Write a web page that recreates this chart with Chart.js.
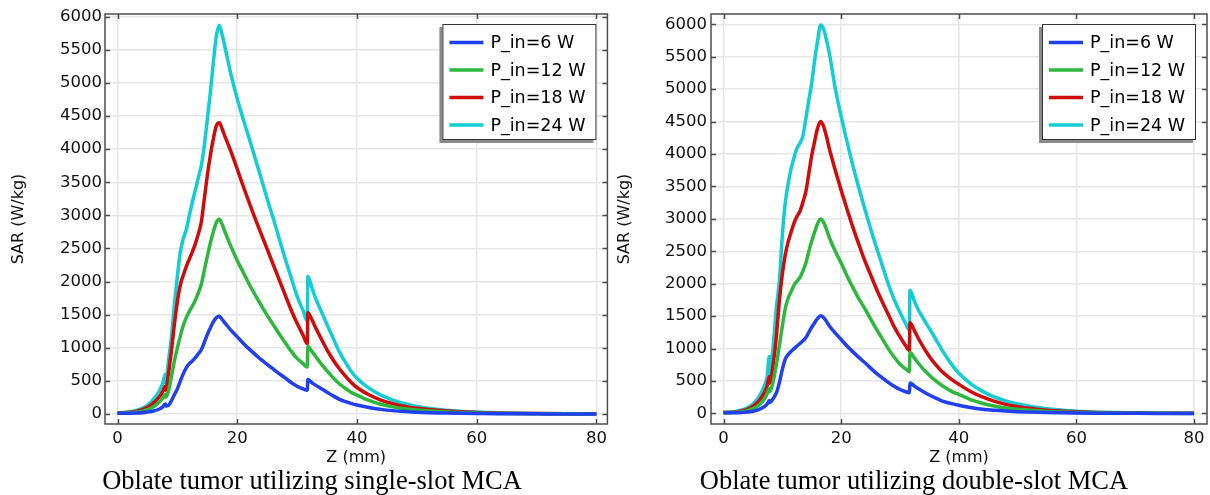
<!DOCTYPE html>
<html>
<head>
<meta charset="utf-8">
<script src="https://cdn.jsdelivr.net/npm/chart.js@4.4.1/dist/chart.umd.min.js"></script>
<style>
  body { margin: 0; background: #fff; width: 1210px; height: 495px; position: relative; overflow: hidden; }
  canvas { position: absolute; top: 0; }
  #chartL { left: 0; }
  #chartR { left: 606px; }
  .caption {
    position: absolute; top: 465px; white-space: nowrap; transform: translateX(-50%);
    font-family: "Liberation Serif", "Times New Roman", serif; font-size: 26.5px; line-height: 30px; color: #000;
  }
</style>
</head>
<body>
<canvas id="chartL" width="612" height="470"></canvas>
<canvas id="chartR" width="604" height="470"></canvas>
<div class="caption" style="left:312px">Oblate tumor utilizing single-slot MCA</div>
<div class="caption" style="left:914px">Oblate tumor utilizing double-slot MCA</div>
<script>
// series names and colours
const seriesLabels = ['P_in=6 W', 'P_in=12 W', 'P_in=18 W', 'P_in=24 W'];
const seriesColors = ['#1f3ff0', '#2db83d', '#d10a0a', '#12cdd4'];

const xTicks = [0, 20, 40, 60, 80];
const yTicks = [0, 500, 1000, 1500, 2000, 2500, 3000, 3500, 4000, 4500, 5000, 5500, 6000];

// single-slot MCA, Z (mm)
const zSingle = [0, 1, 2, 3, 4, 5, 6, 7, 7.5, 8, 8.05, 8.5, 9, 9.5, 10, 10.5, 11, 11.5, 12, 12.5, 13, 13.5, 14, 14.5, 15, 15.5, 16, 16.5, 17, 17.5,
  18, 19, 20, 21, 22, 23, 24, 25, 26, 27, 28, 29, 30, 31, 31.7, 31.8, 32.5, 33, 34, 35, 36, 37, 38, 39, 40, 42, 44, 46, 48, 50, 55, 60, 65, 70, 75, 80];
const sarSingle6 = [10, 10, 12, 15, 20, 30, 45, 75, 105, 150, 122, 130, 200, 290, 380, 500, 610, 700, 760, 800, 850, 910, 970, 1080, 1200, 1300, 1390, 1455, 1475, 1425,
  1370, 1260, 1165, 1070, 980, 900, 820, 750, 680, 610, 545, 475, 420, 380, 360, 520, 470, 440, 385, 330, 275, 225, 190, 160, 135, 97, 70, 51, 38, 28, 14, 7, 4, 2, 1, 1];
const sarSingle12 = [12, 13, 18, 26, 40, 65, 110, 180, 230, 300, 255, 340, 560, 800, 1000, 1180, 1340, 1460, 1550, 1630, 1720, 1830, 1960, 2170, 2380, 2580, 2750, 2890, 2940, 2860,
  2740, 2520, 2320, 2140, 1960, 1800, 1640, 1490, 1350, 1210, 1080, 950, 840, 760, 710, 1020, 940, 880, 760, 650, 550, 460, 390, 330, 285, 205, 148, 108, 80, 60, 30, 15, 8, 4, 2, 1];
const sarSingle18 = [15, 17, 25, 38, 60, 100, 165, 260, 330, 420, 360, 600, 950, 1350, 1700, 1950, 2100, 2230, 2340, 2450, 2570, 2720, 2900, 3250, 3600, 3900, 4150, 4350, 4400, 4300,
  4180, 3950, 3700, 3440, 3190, 2950, 2720, 2490, 2260, 2030, 1800, 1570, 1370, 1190, 1060, 1530, 1420, 1320, 1140, 970, 820, 690, 580, 480, 400, 290, 210, 155, 115, 88, 44, 22, 11, 6, 3, 2];
const sarSingle24 = [18, 22, 32, 50, 80, 130, 220, 350, 450, 600, 460, 800, 1150, 1650, 2080, 2450, 2650, 2790, 3000, 3200, 3380, 3570, 3750, 4050, 4450, 4850, 5300, 5700, 5870, 5720,
  5520, 5110, 4760, 4450, 4160, 3860, 3560, 3250, 2960, 2650, 2350, 2060, 1780, 1560, 1400, 2080, 1900, 1770, 1560, 1350, 1150, 950, 790, 650, 540, 390, 285, 210, 155, 115, 58, 29, 15, 8, 4, 3];

// double-slot MCA, Z (mm)
const zDouble = [0, 1, 2, 3, 4, 5, 6, 7, 7.4, 7.8, 7.85, 8.5, 9, 9.5, 10, 10.5, 11, 11.5, 12, 12.5, 13, 13.5, 14, 14.5, 15, 15.5, 16, 16.5, 17, 17.5,
  18, 19, 20, 21, 22, 23, 24, 25, 26, 27, 28, 29, 30, 31, 31.6, 31.7, 32.5, 33, 34, 35, 36, 37, 38, 39, 40, 42, 44, 46, 48, 50, 55, 60, 65, 70, 75, 80];
const sarDouble6 = [10, 10, 12, 15, 22, 35, 60, 110, 145, 200, 170, 240, 320, 480, 680, 840, 910, 960, 1000, 1040, 1080, 1120, 1170, 1250, 1330, 1400, 1465, 1505, 1480, 1420,
  1350, 1240, 1140, 1040, 950, 865, 785, 700, 620, 550, 480, 420, 370, 335, 320, 470, 420, 390, 335, 285, 240, 200, 170, 148, 128, 92, 66, 49, 37, 28, 14, 7, 4, 2, 1, 1];
const sarDouble12 = [12, 13, 18, 28, 45, 75, 130, 230, 300, 390, 340, 520, 760, 1050, 1350, 1620, 1780, 1880, 1980, 2040, 2100, 2200, 2320, 2500, 2660, 2800, 2930, 3000, 2950, 2840,
  2710, 2500, 2320, 2120, 1940, 1770, 1620, 1460, 1300, 1150, 1000, 870, 760, 685, 645, 940, 850, 790, 680, 590, 510, 440, 380, 330, 295, 215, 158, 116, 86, 64, 32, 16, 8, 4, 2, 1];
const sarDouble18 = [15, 17, 25, 40, 65, 110, 190, 330, 420, 570, 470, 800, 1200, 1750, 2150, 2450, 2650, 2800, 2940, 3040, 3120, 3260, 3420, 3700, 3980, 4200, 4400, 4500, 4430, 4270,
  4080, 3750, 3440, 3150, 2870, 2610, 2360, 2140, 1920, 1720, 1530, 1340, 1180, 1040, 970, 1400, 1270, 1180, 1020, 880, 760, 660, 580, 510, 450, 340, 255, 190, 140, 105, 52, 26, 13, 7, 4, 2];
const sarDouble24 = [18, 22, 33, 52, 85, 145, 250, 440, 560, 880, 620, 1100, 1650, 2050, 2750, 3250, 3550, 3780, 3950, 4090, 4170, 4280, 4550, 4830, 5100, 5450, 5750, 5990, 5930, 5760,
  5550, 5010, 4580, 4190, 3820, 3480, 3160, 2850, 2560, 2280, 2000, 1760, 1560, 1380, 1290, 1900, 1720, 1620, 1460, 1310, 1160, 1000, 860, 730, 620, 460, 345, 255, 195, 148, 72, 36, 18, 10, 5, 3];

const fontFam = "'DejaVu Sans', sans-serif";

// box around plot area with inward tick marks on all four sides
const framePlugin = {
  id: 'frame',
  afterDraw(chart) {
    const { ctx, chartArea: a, scales: { x, y } } = chart;
    ctx.save();
    ctx.strokeStyle = '#4d4d4d';
    ctx.lineWidth = 1.5;
    ctx.strokeRect(a.left, a.top, a.right - a.left, a.bottom - a.top);
    ctx.beginPath();
    x.ticks.forEach(t => {
      const px = Math.round(x.getPixelForValue(t.value)) + 0.5;
      ctx.moveTo(px, a.bottom); ctx.lineTo(px, a.bottom - 5);
      ctx.moveTo(px, a.top); ctx.lineTo(px, a.top + 5);
    });
    y.ticks.forEach(t => {
      const py = Math.round(y.getPixelForValue(t.value)) + 0.5;
      ctx.moveTo(a.left, py); ctx.lineTo(a.left + 5, py);
      ctx.moveTo(a.right, py); ctx.lineTo(a.right - 5, py);
    });
    ctx.stroke();
    ctx.restore();
  }
};

// legend box in the upper right corner of the plot
const boxLegend = {
  id: 'boxLegend',
  afterDraw(chart) {
    const { ctx, chartArea: a } = chart;
    const w = 154, h = 116;
    const left = a.right - 11 - w, top = a.top + 10;
    ctx.save();
    ctx.fillStyle = '#8a8a8a';
    ctx.fillRect(left - 3, top + 3, w, h);
    ctx.fillStyle = '#fff';
    ctx.fillRect(left, top, w, h);
    ctx.strokeStyle = '#333';
    ctx.lineWidth = 1;
    ctx.strokeRect(left + 0.5, top + 0.5, w - 1, h - 1);
    ctx.font = '17.5px ' + fontFam;
    ctx.textBaseline = 'middle';
    ctx.fillStyle = '#000';
    chart.data.datasets.forEach((ds, i) => {
      const cy = top + 18.5 + i * 27.5;
      ctx.strokeStyle = ds.borderColor;
      ctx.lineWidth = 3.5;
      ctx.beginPath();
      ctx.moveTo(left + 7, cy); ctx.lineTo(left + 41, cy);
      ctx.stroke();
      ctx.fillText(ds.label, left + 48, cy + 1);
    });
    ctx.restore();
  }
};

function makeChart(id, z, seriesList, xRange, yRange, titlePad, tickPad, padRight) {
  const datasets = seriesList.map((vals, i) => ({
    label: seriesLabels[i],
    data: z.map((zz, k) => ({ x: zz, y: vals[k] })),
    borderColor: seriesColors[i],
    backgroundColor: seriesColors[i],
    borderWidth: 3.5,
    pointRadius: 0,
    cubicInterpolationMode: 'monotone',
    fill: false
  }));
  return new Chart(document.getElementById(id), {
    type: 'line',
    data: { datasets },
    plugins: [framePlugin, boxLegend],
    options: {
      responsive: false,
      animation: false,
      layout: { padding: { top: 14, right: padRight, left: 0, bottom: 0 } },
      plugins: { legend: { display: false }, tooltip: { enabled: false } },
      scales: {
        x: {
          type: 'linear',
          min: xRange[0], max: xRange[1],
          afterBuildTicks: s => { s.ticks = xTicks.map(v => ({ value: v })); },
          afterFit: s => { s.height = 46; },
          grid: { color: '#e6e6e6', lineWidth: 1.5, drawTicks: false },
          border: { display: false },
          ticks: { color: '#111', font: { family: fontFam, size: 16.5 }, padding: 5, maxRotation: 0, autoSkip: false,
                   callback: v => String(v) },
          title: { display: true, text: 'Z (mm)', color: '#111', font: { family: fontFam, size: 16 }, padding: { top: 0, bottom: 3 } }
        },
        y: {
          min: yRange[0], max: yRange[1],
          afterBuildTicks: s => { s.ticks = yTicks.map(v => ({ value: v })); },
          afterFit: s => { s.width = 105; },
          grid: { color: '#e6e6e6', lineWidth: 1.5, drawTicks: false },
          border: { display: false },
          ticks: { color: '#111', font: { family: fontFam, size: 16.5 }, padding: tickPad, autoSkip: false,
                   callback: v => String(v) },
          title: { display: true, text: 'SAR (W/kg)', color: '#111', font: { family: fontFam, size: 16 }, padding: { top: titlePad, bottom: 0 } }
        }
      }
    }
  });
}

makeChart('chartL', zSingle, [sarSingle6, sarSingle12, sarSingle18, sarSingle24], [-2.09, 81.84], [-151, 6041], 9.4, 3, 4);
makeChart('chartR', zDouble, [sarDouble6, sarDouble12, sarDouble18, sarDouble24], [-2.13, 82.2], [-162, 6159], 9.7, 4, 3);
</script>
</body>
</html>
